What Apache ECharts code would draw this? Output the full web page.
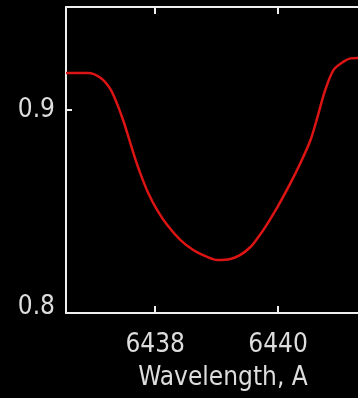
<!DOCTYPE html>
<html>
	<head>
		<meta charset="utf-8" />
		<title>Line profile</title>
		<script src="https://cdn.jsdelivr.net/npm/echarts@6/dist/echarts.min.js"></script>
		<style type="text/css">
			html,body{margin:0;padding:0;background:#000;overflow:hidden;}
		</style>
	</head>
	<body>
		<!-- plot box runs a little past the right edge of the window, like the original -->
		<div id="main" style="width: 380px;height:398px;"></div>
		<script type="text/javascript">
			// wavelength (A) and relative intensity
			var wavelength = [6436.548, 6436.907, 6437.103, 6437.266, 6437.380, 6437.480, 6437.580, 6437.674, 6437.755, 6437.886,
				6438.033, 6438.196, 6438.408, 6438.620, 6438.848, 6439.011, 6439.223, 6439.387, 6439.550, 6439.680,
				6439.762, 6439.990, 6440.202, 6440.365, 6440.529, 6440.643, 6440.760, 6440.904, 6441.067, 6441.181, 6441.295, 6441.660];
			var intensity = [0.9182, 0.9182, 0.9160, 0.9105, 0.9030, 0.8948, 0.8852, 0.8760, 0.8690, 0.8591,
				0.8507, 0.8433, 0.8360, 0.8310, 0.8276, 0.8261, 0.8266, 0.8286, 0.8325, 0.8374,
				0.8409, 0.8522, 0.8640, 0.8739, 0.8852, 0.8966, 0.9090, 0.9197, 0.9238, 0.9254, 0.9256, 0.9256];
			var xTicks = [6438, 6440];
			var yTicks = [0.8, 0.9];

			var pts = [];
			for (var i = 0; i < wavelength.length; i++) {
				pts.push([wavelength[i], intensity[i]]);
			}

			var fontFam = '"DejaVu Sans Condensed", "DejaVu Sans", sans-serif';
			var lineCol = '#eeeeee';
			var txtCol = '#dddddd';
			var xmin = 6436.548, xmax = 6441.66;

			var myChart = echarts.init(document.getElementById('main'));
			var option = {
				backgroundColor: '#000',
				animation: false,
				grid: {left: 66, right: 0, top: 7, bottom: 85},
				xAxis: [{
					type: 'value', min: xmin, max: xmax, position: 'bottom',
					name: 'Wavelength, A', nameLocation: 'middle', nameGap: 52,
					nameTextStyle: {color: txtCol, fontFamily: fontFam, fontSize: 26},
					axisLine: {show: true, lineStyle: {color: lineCol, width: 2}},
					axisTick: {show: true, inside: true, length: 7, customValues: xTicks, lineStyle: {color: lineCol, width: 2}},
					axisLabel: {
						show: true, customValues: xTicks, margin: 19, color: txtCol, fontFamily: fontFam, fontSize: 26,
						formatter: function (v) { return String(v); }
					},
					splitLine: {show: false}
				}, {
					type: 'value', min: xmin, max: xmax, position: 'top',
					axisLine: {show: true, lineStyle: {color: lineCol, width: 2}},
					axisTick: {show: true, inside: true, length: 7, customValues: xTicks, lineStyle: {color: lineCol, width: 2}},
					axisLabel: {show: false},
					splitLine: {show: false}
				}],
				yAxis: [{
					type: 'value', min: 0.8, max: 0.9507,
					axisLine: {show: true, lineStyle: {color: lineCol, width: 2}},
					axisTick: {show: true, inside: true, length: 6, customValues: yTicks, lineStyle: {color: lineCol, width: 2}},
					axisLabel: {
						show: true, customValues: yTicks, margin: 11, color: txtCol, fontFamily: fontFam, fontSize: 26,
						formatter: function (v) {
							if (Math.abs(v - 0.8) < 1e-6) return '{lo|0.8}';
							return v.toFixed(1);
						},
						rich: {lo: {color: txtCol, fontFamily: fontFam, fontSize: 26, padding: [0, 0, 12, 0]}}
					},
					splitLine: {show: false}
				}],
				series: [{
					type: 'line',
					data: pts,
					smooth: 0.3,
					showSymbol: false,
					lineStyle: {color: '#dd1414', width: 2.5},
					clip: true
				}]
			};
			myChart.setOption(option);
		</script>
	</body>
</html>
